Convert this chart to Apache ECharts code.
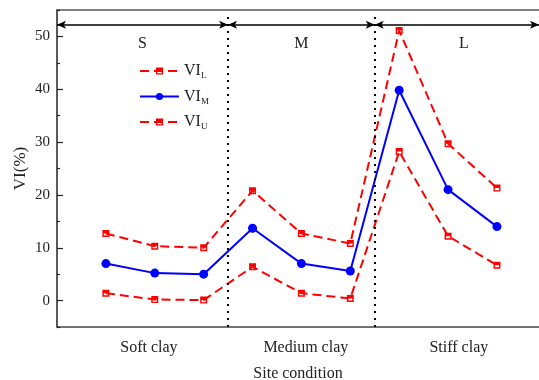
<!DOCTYPE html>
<html>
<head>
<meta charset="utf-8">
<script src="https://cdn.jsdelivr.net/npm/echarts@6/dist/echarts.min.js"></script>
<style>html,body{margin:0;padding:0;background:#fff;}#c{width:539px;height:380px;}</style>
</head>
<body>
<div id="c"></div>
<script>
var xPositions = [1, 2, 3, 4, 5, 6, 7, 8, 9];
var viUpper = [12.7, 10.3, 10.0, 20.8, 12.7, 10.8, 51.1, 29.7, 21.3];
var viMid = [7.0, 5.2, 5.0, 13.7, 7.0, 5.6, 39.8, 21.0, 14.0];
var viLower = [1.4, 0.2, 0.1, 6.4, 1.4, 0.4, 28.2, 12.2, 6.7];
var yTicks = [0, 10, 20, 30, 40, 50];
var yMinorTicks = [-5, 5, 15, 25, 35, 45, 55];
var groupLabels = ['Soft clay', 'Medium clay', 'Stiff clay'];
var groupLabelPos = [1.88, 5.09, 8.22];
var dividers = [3.5, 6.5];
var xMax = 9.86;
var zones = [['S', 0, 3.5], ['M', 3.5, 6.5], ['L', 6.5, 9.86]];
var zoneLabelShift = [0, 0, 7];
var arrowY = 52.2;

var FONT = 'Liberation Serif';
var sq = 'path://M0,0H10V10H0Z M2,5V8H8V5Z';

function pts(vals) { return xPositions.map(function (x, i) { return [x, vals[i]]; }); }

var chart = echarts.init(document.getElementById('c'));
var redStyle = { color: '#ff0000', width: 2, type: [9, 5] };
chart.setOption({
  animation: false,
  grid: { left: 57, right: 0, top: 10, bottom: 53, containLabel: false, outerBoundsMode: 'none' },
  textStyle: { fontFamily: FONT },
  legend: {
    orient: 'vertical', left: 134, top: 58, itemWidth: 39, itemHeight: 9, itemGap: 8,
    data: ['VI_L', 'VI_M', 'VI_U'],
    formatter: function (n) { return '{a|VI}{b|' + n.split('_')[1] + '}'; },
    textStyle: {
      fontFamily: FONT, color: '#222',
      rich: { a: { fontSize: 16, fontFamily: FONT, color: '#222' }, b: { fontSize: 9, fontFamily: FONT, color: '#222', padding: [10, 0, 0, 0] } }
    }
  },
  xAxis: [{
    type: 'value', min: 0, max: xMax, position: 'bottom',
    name: 'Site condition', nameLocation: 'middle', nameGap: 39, nameMoveOverlap: false,
    nameTextStyle: { fontFamily: FONT, fontSize: 16, color: '#222' },
    axisLine: { show: true, onZero: false, lineStyle: { color: '#444', width: 1.5 } },
    axisTick: { show: false },
    splitLine: { show: false },
    axisLabel: {
      customValues: groupLabelPos, margin: 13,
      fontFamily: FONT, fontSize: 16, color: '#222',
      formatter: function (v) { return groupLabels[groupLabelPos.indexOf(v)] || ''; }
    }
  }, {
    type: 'value', min: 0, max: xMax, position: 'top',
    axisLine: { show: true, onZero: false, lineStyle: { color: '#555', width: 1.5 } },
    axisTick: { show: false }, axisLabel: { show: false }, splitLine: { show: false }
  }],
  yAxis: [{
    type: 'value', min: -5, max: 55,
    name: 'VI(%)', nameLocation: 'middle', nameGap: 28, nameMoveOverlap: false,
    nameTextStyle: { fontFamily: FONT, fontSize: 17, color: '#222' },
    axisLine: { show: true, onZero: false, lineStyle: { color: '#222', width: 1.5 } },
    axisTick: { show: true, inside: true, length: 6, customValues: yTicks, lineStyle: { color: '#222', width: 1.2 } },
    axisLabel: { customValues: yTicks, fontFamily: FONT, fontSize: 15, color: '#222', margin: 7 },
    splitLine: { show: false }
  }, {
    type: 'value', min: -5, max: 55, position: 'left', offset: 0,
    axisLine: { show: false },
    axisTick: { show: true, inside: true, length: 3, customValues: yMinorTicks, lineStyle: { color: '#222', width: 1.2 } },
    axisLabel: { show: false }, splitLine: { show: false }
  }],
  series: [
    {
      name: 'VI_U', type: 'line', data: pts(viUpper), symbol: sq, symbolSize: 7,
      lineStyle: redStyle, itemStyle: { color: '#ff0000' }, z: 3,
      markLine: {
        silent: true, symbol: 'none', animation: false,
        lineStyle: { color: '#000', width: 2, type: [2, 5] },
        label: { show: false },
        data: dividers.map(function (d) { return [{ coord: [d, -5] }, { coord: [d, 53.8] }]; })
      }
    },
    {
      name: 'VI_M', type: 'line', data: pts(viMid), symbol: 'circle', symbolSize: 9,
      lineStyle: { color: '#0000ff', width: 2 }, itemStyle: { color: '#0000ff' }, z: 4,
      markLine: {
        silent: true, symbol: ['arrow', 'arrow'], symbolSize: [6, 9], animation: false,
        lineStyle: { color: '#000', width: 1.5, type: 'solid' },
        label: { show: true, position: 'insideMiddleBottom', distance: 11, fontFamily: FONT, fontSize: 16, color: '#222', formatter: function (p) { return p.name; } },
        data: zones.map(function (z, i) {
          return [{ name: z[0], coord: [z[1], arrowY], label: { offset: [zoneLabelShift[i], 0] } }, { coord: [z[2], arrowY] }];
        })
      }
    },
    {
      name: 'VI_L', type: 'line', data: pts(viLower), symbol: sq, symbolSize: 7,
      lineStyle: redStyle, itemStyle: { color: '#ff0000' }, z: 3
    }
  ]
});
</script>
</body>
</html>
